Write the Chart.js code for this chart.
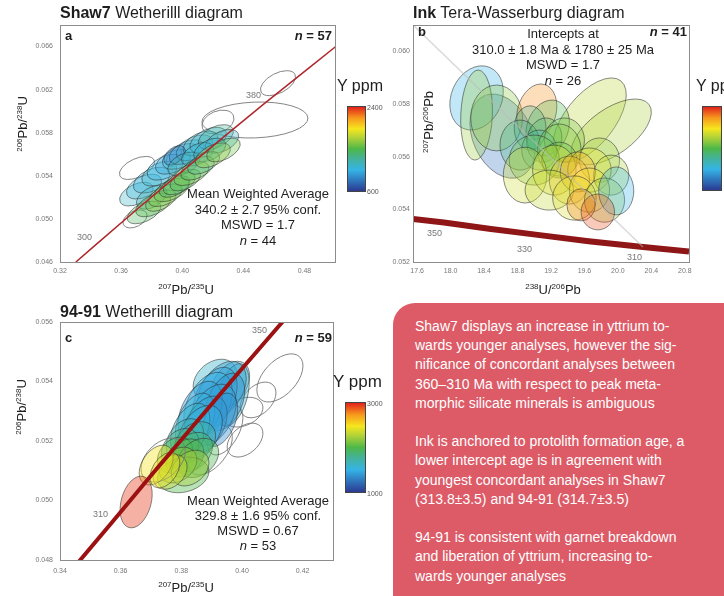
<!DOCTYPE html>
<html>
<head>
<meta charset="utf-8">
<script src="https://cdn.jsdelivr.net/npm/chart.js@4.4.0/dist/chart.umd.min.js"></script>
<style>
  body { margin: 0; width: 724px; height: 596px; background: #fff; position: relative; overflow: hidden;
         font-family: "Liberation Sans", Arial, sans-serif; color: #1e1e1e; }
  canvas { position: absolute; }
  .t { position: absolute; white-space: nowrap; line-height: 1; }
  .c { transform: translateX(-50%); text-align: center; }
  .rot { transform: translate(-50%, -50%) rotate(-90deg); }
  .sup { font-size: 8px; vertical-align: 5px; }
  .titulo { font-size: 16px; }
  .letra { font-size: 13px; font-weight: bold; }
  .stats { font-size: 13px; }
  .edad { font-size: 9px; color: #777; }
  .eje { font-size: 13px; }
  .yppm { font-size: 16px; }
  .barra { position: absolute; border: 1px solid #444; box-sizing: border-box; }
  .mini { font-size: 7px; color: #555; }
  #caja { position: absolute; left: 393px; top: 303px; width: 360px; height: 320px; background: #dc5b67;
          border-radius: 22px; color: #fff; font-size: 14px; line-height: 19.2px; padding: 14px 0 0 22px;
          box-sizing: border-box; white-space: nowrap; }
</style>
</head>
<body>

<canvas id="graficoA" width="340" height="280" style="left:0;top:0"></canvas>
<canvas id="graficoB" width="330" height="280" style="left:370px;top:0"></canvas>
<canvas id="graficoC" width="340" height="280" style="left:0;top:300px"></canvas>

<!-- titulos -->
<div class="t titulo" style="left:60px;top:5px"><b>Shaw7</b> Wetherilll diagram</div>
<div class="t titulo" style="left:413px;top:5px"><b>Ink</b> Tera-Wasserburg diagram</div>
<div class="t titulo" style="left:60px;top:304px"><b>94-91</b> Wetherilll diagram</div>

<!-- panel a -->
<div class="t letra" style="left:65px;top:29px">a</div>
<div class="t letra" style="right:392px;top:29px"><i>n</i> = 57</div>
<div class="t stats c" style="left:258px;top:186px;line-height:15.5px">Mean Weighted Average<br>340.2 ± 2.7 95% conf.<br>MSWD = 1.7<br><i>n</i> = 44</div>
<div class="t edad" style="left:77px;top:233px">300</div>
<div class="t edad" style="left:246px;top:91px">380</div>
<div class="t eje c" style="left:186px;top:283px"><span class="sup">207</span>Pb/<span class="sup">235</span>U</div>
<div class="t eje rot" style="left:22px;top:124px"><span class="sup">206</span>Pb/<span class="sup">238</span>U</div>

<!-- panel b -->
<div class="t letra" style="left:418px;top:25px">b</div>
<div class="t letra" style="right:37px;top:25px"><i>n</i> = 41</div>
<div class="t stats c" style="left:563px;top:26px;line-height:15.7px">Intercepts at<br>310.0 ± 1.8 Ma &amp; 1780 ± 25 Ma<br>MSWD = 1.7<br><i>n</i> = 26</div>
<div class="t edad" style="left:427px;top:229px">350</div>
<div class="t edad" style="left:517px;top:245px">330</div>
<div class="t edad" style="left:627px;top:253px">310</div>
<div class="t eje c" style="left:553px;top:283px"><span class="sup">238</span>U/<span class="sup">206</span>Pb</div>
<div class="t eje rot" style="left:428px;top:122px"><span class="sup">207</span>Pb/<span class="sup">206</span>Pb</div>

<!-- panel c -->
<div class="t letra" style="left:65px;top:331px">c</div>
<div class="t letra" style="right:392px;top:331px"><i>n</i> = 59</div>
<div class="t stats c" style="left:258px;top:493px;line-height:15px">Mean Weighted Average<br>329.8 ± 1.6 95% conf.<br>MSWD = 0.67<br><i>n</i> = 53</div>
<div class="t edad" style="left:252px;top:326px">350</div>
<div class="t edad" style="left:93px;top:510px">310</div>
<div class="t eje c" style="left:186px;top:581px"><span class="sup">207</span>Pb/<span class="sup">235</span>U</div>
<div class="t eje rot" style="left:21px;top:407px"><span class="sup">206</span>Pb/<span class="sup">238</span>U</div>

<!-- barras de color -->
<div class="t yppm" style="left:337px;top:78px">Y ppm</div>
<div class="barra" id="barraA" style="left:347px;top:106px;width:19px;height:86px"></div>
<div class="t mini" style="left:367px;top:104px">2400</div>
<div class="t mini" style="left:367px;top:188px">600</div>

<div class="t yppm" style="left:696px;top:78px">Y ppm</div>
<div class="barra" id="barraB" style="left:702px;top:106px;width:20px;height:85px"></div>

<div class="t yppm" style="left:333px;top:373px;font-size:17px">Y ppm</div>
<div class="barra" id="barraC" style="left:345px;top:402px;width:21px;height:91px"></div>
<div class="t mini" style="left:367px;top:400px">3000</div>
<div class="t mini" style="left:367px;top:490px">1000</div>

<div id="caja">Shaw7 displays an increase in yttrium to-<br>wards younger analyses, however the sig-<br>nificance of concordant analyses between<br>360–310 Ma with respect to peak meta-<br>morphic silicate minerals is ambiguous<br><br>Ink is anchored to protolith formation age, a<br>lower intercept age is in agreement with<br>youngest concordant analyses in Shaw7<br>(313.8±3.5) and 94-91 (314.7±3.5)<br><br>94-91 is consistent with garnet breakdown<br>and liberation of yttrium, increasing to-<br>wards younger analyses</div>

<script>
// ---- Panel a: Shaw7 (Wetherill) ----
const ticksXA = [0.32, 0.36, 0.40, 0.44, 0.48];
const ticksYA = [0.046, 0.050, 0.054, 0.058, 0.062, 0.066];
const concordiaA = [[0.3304, 0.0460], [0.3437, 0.04764], [0.3704, 0.0509], [0.3977, 0.05416],
                    [0.4256, 0.05743], [0.4539, 0.06072], [0.4828, 0.0640], [0.5005, 0.0660]];
// columnas: x, y, semiancho x, semiancho y, correlacion, Y ppm (null = sin color)
const elipsesA = [
  [0.4627, 0.0626, 0.0115, 0.00116, 0.5, null],
  [0.4476, 0.05918, 0.0347, 0.00167, 0.1, null],
  [0.4234, 0.0590, 0.0105, 0.0011, 0.3, null],
  [0.3704, 0.05473, 0.0115, 0.00107, 0.5, null],
  [0.3691, 0.0500, 0.0079, 0.00084, 0.4, null],
  [0.3946, 0.05575, 0.0050, 0.0009, 0.5, null],
  [0.370, 0.0523, 0.0110, 0.00110, 0.45, 1150],
  [0.375, 0.0530, 0.0115, 0.00115, 0.45, 1100],
  [0.380, 0.0536, 0.0120, 0.00120, 0.45, 1080],
  [0.385, 0.0542, 0.0115, 0.00115, 0.45, 1150],
  [0.389, 0.0548, 0.0120, 0.00120, 0.45, 1050],
  [0.394, 0.0553, 0.0115, 0.00115, 0.45, 980],
  [0.399, 0.0558, 0.0120, 0.00120, 0.45, 1100],
  [0.403, 0.0562, 0.0115, 0.00115, 0.45, 950],
  [0.408, 0.0566, 0.0120, 0.00120, 0.45, 1080],
  [0.412, 0.0570, 0.0115, 0.00115, 0.45, 1200],
  [0.417, 0.0573, 0.0120, 0.00120, 0.45, 1120],
  [0.422, 0.0576, 0.0115, 0.00115, 0.45, 1300],
  [0.426, 0.0572, 0.0110, 0.00110, 0.45, 1150],
  [0.395, 0.0559, 0.0070, 0.00090, 0.45, 850],
  [0.401, 0.0551, 0.0105, 0.00110, 0.45, 1250],
  [0.410, 0.0560, 0.0105, 0.00110, 0.45, 1120],
  [0.418, 0.0564, 0.0105, 0.00110, 0.45, 1080],
  [0.380, 0.0520, 0.0100, 0.00110, 0.45, 1200],
  [0.375, 0.0506, 0.0110, 0.00105, 0.5, 1450],
  [0.381, 0.0513, 0.0115, 0.00110, 0.5, 1500],
  [0.386, 0.0517, 0.0100, 0.00100, 0.5, 1650],
  [0.389, 0.0522, 0.0110, 0.00105, 0.5, 1600],
  [0.393, 0.0527, 0.0115, 0.00110, 0.5, 1550],
  [0.395, 0.0530, 0.0100, 0.00100, 0.5, 1400],
  [0.398, 0.0533, 0.0105, 0.00105, 0.5, 1450],
  [0.402, 0.0536, 0.0100, 0.00100, 0.5, 1500],
  [0.406, 0.0542, 0.0115, 0.00110, 0.5, 1600],
  [0.410, 0.0547, 0.0110, 0.00110, 0.5, 1450],
  [0.414, 0.0552, 0.0105, 0.00105, 0.5, 1350],
  [0.420, 0.0559, 0.0115, 0.00115, 0.5, 1700],
  [0.427, 0.0564, 0.0110, 0.00110, 0.5, 1550]
];

// ---- Panel b: Ink (Tera-Wasserburg) ----
const ticksXB = [17.6, 18.0, 18.4, 18.8, 19.2, 19.6, 20.0, 20.4, 20.8];
const ticksYB = [0.052, 0.054, 0.056, 0.058, 0.060];
const concordiaB = [[17.55, 0.05363], [17.92, 0.05350], [18.46, 0.05326], [19.04, 0.05303],
                    [19.65, 0.05279], [20.30, 0.05257], [20.85, 0.05240]];
const edadesB = [[17.92, 0.05350], [18.46, 0.05326], [19.04, 0.05303], [19.65, 0.05279], [20.30, 0.05257]];
const discordiaB = [[17.55, 0.0610], [20.30, 0.05257]];
const elipsesB = [
  [19.66, 0.05739, 0.44, 0.0016, 0.6, 1770],
  [19.92, 0.05694, 0.48, 0.00125, 0.6, 1720],
  [18.62, 0.05678, 0.39, 0.0016, -0.3, 820],
  [18.31, 0.05823, 0.32, 0.00122, 0.2, 1050],
  [18.31, 0.05758, 0.19, 0.00171, 0.1, 1680],
  [18.55, 0.05747, 0.31, 0.00125, 0.0, 1640],
  [19.03, 0.0577, 0.24, 0.00106, 0.2, 2180],
  [19.16, 0.05709, 0.26, 0.00106, 0.2, 1500],
  [18.95, 0.05709, 0.19, 0.00084, 0.0, 1320],
  [18.83, 0.05644, 0.24, 0.00095, 0.0, 1360],
  [19.12, 0.05663, 0.21, 0.00084, 0.1, 1410],
  [19.36, 0.05663, 0.24, 0.00084, 0.0, 1590],
  [19.06, 0.05625, 0.21, 0.00076, 0.0, 1230],
  [19.30, 0.05625, 0.26, 0.00099, 0.0, 1640],
  [19.00, 0.05587, 0.30, 0.00095, 0.0, 1590],
  [19.30, 0.05587, 0.21, 0.00068, 0.0, 1540],
  [19.78, 0.05587, 0.24, 0.00084, 0.0, 1680],
  [18.89, 0.0553, 0.26, 0.00106, 0.0, 1820],
  [19.24, 0.05549, 0.26, 0.00095, 0.0, 1860],
  [19.66, 0.05549, 0.26, 0.00084, 0.0, 1900],
  [19.92, 0.0553, 0.21, 0.00076, 0.0, 1720],
  [19.42, 0.05511, 0.24, 0.00091, 0.0, 2040],
  [19.52, 0.05542, 0.21, 0.00076, 0.0, 2130],
  [19.18, 0.05473, 0.29, 0.00076, 0.0, 1790],
  [19.66, 0.05473, 0.24, 0.00084, 0.0, 1950],
  [19.48, 0.05443, 0.26, 0.00084, 0.0, 1860],
  [19.84, 0.05435, 0.24, 0.00084, 0.0, 1680],
  [19.98, 0.0547, 0.21, 0.00091, 0.0, 1050],
  [19.56, 0.05417, 0.17, 0.00061, 0.0, 2220],
  [19.76, 0.0539, 0.20, 0.00068, 0.0, 2310]
];

// ---- Panel c: 94-91 (Wetherill) ----
const ticksXC = [0.34, 0.36, 0.38, 0.40, 0.42];
const ticksYC = [0.048, 0.050, 0.052, 0.054, 0.056];
const concordiaC = [[0.3437, 0.04764], [0.3571, 0.04926], [0.3705, 0.0509], [0.3840, 0.05252],
                    [0.3977, 0.05416], [0.4116, 0.05580], [0.4256, 0.05743]];
const edadesC = [[0.3571, 0.04926], [0.4116, 0.05580]];
const elipsesC = [
  [0.4125, 0.05412, 0.0076, 0.00081, 0.5, null],
  [0.4053, 0.05338, 0.0059, 0.0006, 0.4, null],
  [0.4010, 0.05203, 0.0059, 0.00057, 0.4, null],
  [0.4003, 0.05297, 0.0066, 0.0005, 0.3, null],
  [0.3895, 0.0517, 0.0073, 0.00084, 0.5, null],
  [0.3944, 0.05237, 0.0059, 0.00084, 0.5, null],
  [0.3911, 0.05405, 0.0072, 0.0007, 0.3, 1600],
  [0.3960, 0.05388, 0.0065, 0.0008, 0.4, 1560],
  [0.3970, 0.05355, 0.0054, 0.00105, 0.4, 1600],
  [0.3934, 0.05371, 0.0080, 0.00097, 0.4, 1400],
  [0.3911, 0.05344, 0.0073, 0.00104, 0.4, 1440],
  [0.3888, 0.05321, 0.0080, 0.0011, 0.4, 1500],
  [0.3944, 0.05331, 0.0065, 0.00097, 0.4, 1360],
  [0.3862, 0.05297, 0.0073, 0.00104, 0.4, 1400],
  [0.3901, 0.05287, 0.0080, 0.00104, 0.4, 1460],
  [0.3845, 0.05264, 0.0065, 0.00097, 0.4, 1540],
  [0.3878, 0.05254, 0.0073, 0.00097, 0.4, 1400],
  [0.3928, 0.05271, 0.0058, 0.0009, 0.4, 1340],
  [0.3829, 0.05237, 0.0065, 0.0009, 0.4, 1600],
  [0.3862, 0.0523, 0.0073, 0.0009, 0.4, 1500],
  [0.3812, 0.05203, 0.0062, 0.00072, 0.3, 1700],
  [0.3845, 0.05197, 0.0068, 0.00068, 0.3, 1760],
  [0.3796, 0.05176, 0.0062, 0.00066, 0.3, 1840],
  [0.3835, 0.05163, 0.0068, 0.00066, 0.3, 1900],
  [0.3779, 0.05153, 0.0058, 0.0006, 0.3, 2000],
  [0.3812, 0.05143, 0.0062, 0.00064, 0.3, 2040],
  [0.3855, 0.05143, 0.0068, 0.00066, 0.3, 1960],
  [0.3806, 0.05086, 0.0085, 0.0006, 0.2, 2000],
  [0.3789, 0.05119, 0.0062, 0.0006, 0.3, 2200],
  [0.3829, 0.05109, 0.0062, 0.0006, 0.3, 2240],
  [0.3763, 0.05096, 0.0056, 0.00058, 0.3, 2360],
  [0.3740, 0.05136, 0.0073, 0.00074, 0.4, null],
  [0.3717, 0.05119, 0.0056, 0.00067, 0.4, 2500],
  [0.3746, 0.05102, 0.0049, 0.0006, 0.4, 2440],
  [0.3651, 0.04995, 0.0053, 0.00087, 0.3, 2940]
];

// colores de la escala (tipo jet)
const paradasJet = [[0, "#2b3a93"], [0.12, "#2f74bb"], [0.25, "#35b4e6"], [0.38, "#43b29c"], [0.5, "#4db848"],
                    [0.62, "#a8cf3a"], [0.74, "#f6e61e"], [0.87, "#f7981d"], [1, "#e2231a"]];

function hexARgb(h) {
  return [parseInt(h.substr(1, 2), 16), parseInt(h.substr(3, 2), 16), parseInt(h.substr(5, 2), 16)];
}

function colorJet(t, alfa) {
  t = Math.max(0, Math.min(1, t));
  for (let i = 1; i < paradasJet.length; i++) {
    if (t <= paradasJet[i][0]) {
      const a = paradasJet[i - 1], b = paradasJet[i];
      const f = (t - a[0]) / (b[0] - a[0]);
      const ca = hexARgb(a[1]), cb = hexARgb(b[1]);
      const c = ca.map((v, k) => Math.round(v + (cb[k] - v) * f));
      return `rgba(${c[0]},${c[1]},${c[2]},${alfa})`;
    }
  }
  return paradasJet[paradasJet.length - 1][1];
}

const gradiente = "linear-gradient(to top," + paradasJet.map(p => `${p[1]} ${p[0] * 100}%`).join(",") + ")";
document.getElementById("barraA").style.background = gradiente;
document.getElementById("barraB").style.background = gradiente;
document.getElementById("barraC").style.background = gradiente;

// dibuja las elipses de error con las escalas del grafico
const pluginElipses = {
  id: "elipses",
  beforeDatasetsDraw(chart) {
    const ctx = chart.ctx, xs = chart.scales.x, ys = chart.scales.y, area = chart.chartArea;
    ctx.save();
    ctx.beginPath();
    ctx.rect(area.left, area.top, area.right - area.left, area.bottom - area.top);
    ctx.clip();
    chart.data.datasets.forEach(ds => {
      if (!ds.elipses) return;
      ds.data.forEach(p => {
        const cx = xs.getPixelForValue(p.x), cy = ys.getPixelForValue(p.y);
        const ax = Math.abs(xs.getPixelForValue(p.x + p.sx) - cx);
        const ay = Math.abs(ys.getPixelForValue(p.y + p.sy) - cy);
        const cxx = ax * ax, cyy = ay * ay, cxy = -p.rho * ax * ay;
        const m = (cxx + cyy) / 2, d = Math.sqrt(((cxx - cyy) / 2) ** 2 + cxy * cxy);
        const r1 = Math.sqrt(m + d), r2 = Math.sqrt(Math.max(m - d, 0.5));
        const ang = 0.5 * Math.atan2(2 * cxy, cxx - cyy);
        ctx.beginPath();
        ctx.ellipse(cx, cy, r1, r2, ang, 0, Math.PI * 2);
        if (p.ppm != null) {
          ctx.fillStyle = colorJet((p.ppm - ds.ppmMin) / (ds.ppmMax - ds.ppmMin), ds.alfa);
          ctx.fill();
          ctx.strokeStyle = "rgba(45,45,45,0.55)";
        } else {
          ctx.strokeStyle = "rgba(120,120,120,0.9)";
        }
        ctx.lineWidth = 1;
        ctx.stroke();
      });
    });
    ctx.restore();
  }
};

// marco gris del area
const pluginMarco = {
  id: "marco",
  afterDraw(chart) {
    const a = chart.chartArea, ctx = chart.ctx;
    ctx.save();
    ctx.strokeStyle = "#8c8c8c";
    ctx.lineWidth = 1;
    ctx.strokeRect(Math.round(a.left) + 0.5, Math.round(a.top) + 0.5, Math.round(a.right - a.left), Math.round(a.bottom - a.top));
    ctx.restore();
  }
};

function aPuntos(lista) {
  return lista.map(p => ({ x: p[0], y: p[1] }));
}

function aElipses(lista) {
  return lista.map(e => ({ x: e[0], y: e[1], sx: e[2], sy: e[3], rho: e[4], ppm: e[5] }));
}

function ejeLineal(min, max, ticks, dec, pad, ajuste) {
  return {
    type: "linear", min: min, max: max,
    grid: { display: false, drawTicks: false },
    border: { display: false },
    ticks: { autoSkip: false, maxRotation: 0, padding: pad, color: "#777",
             font: { size: 7, family: "Liberation Sans" }, callback: v => v.toFixed(dec) },
    afterBuildTicks: s => { s.ticks = ticks.map(v => ({ value: v })); },
    afterFit: ajuste
  };
}

function dibujarPanel(id, cfg) {
  const datasets = [
    { data: aElipses(cfg.elipses), elipses: true, ppmMin: cfg.ppmMin, ppmMax: cfg.ppmMax, alfa: cfg.alfa,
      pointRadius: 0, showLine: false }
  ];
  if (cfg.discordia) {
    datasets.push({ data: aPuntos(cfg.discordia), showLine: true, pointRadius: 0,
                    borderColor: "rgba(185,185,185,0.55)", borderWidth: 1.5 });
  }
  datasets.push({ data: aPuntos(cfg.concordia), showLine: true, pointRadius: 0,
                  borderColor: cfg.colorLinea, borderWidth: cfg.anchoLinea });
  if (cfg.edades) {
    datasets.push({ data: aPuntos(cfg.edades), showLine: false, pointStyle: "line", pointRadius: cfg.radioMarca,
                    pointRotation: cfg.giroMarca, pointBorderColor: "#fff", pointBorderWidth: 2 });
  }
  const ctx = document.getElementById(id).getContext("2d");
  new Chart(ctx, {
    type: "scatter",
    data: { datasets: datasets },
    options: {
      responsive: false,
      animation: false,
      layout: { padding: { top: cfg.padTop, right: cfg.padRight, left: 0, bottom: 0 } },
      plugins: { legend: { display: false }, tooltip: { enabled: false } },
      scales: {
        x: ejeLineal(cfg.xMin, cfg.xMax, cfg.ticksX, cfg.decX, cfg.padX, s => { s.height = cfg.altoX; }),
        y: ejeLineal(cfg.yMin, cfg.yMax, cfg.ticksY, 3, cfg.padY, s => { s.width = cfg.anchoY; })
      }
    },
    plugins: [pluginElipses, pluginMarco]
  });
}

dibujarPanel("graficoA", {
  elipses: elipsesA, ppmMin: 600, ppmMax: 2400, alfa: 0.32,
  concordia: concordiaA, colorLinea: "#b0262b", anchoLinea: 1.5,
  xMin: 0.32, xMax: 0.50, yMin: 0.046, yMax: 0.068, ticksX: ticksXA, ticksY: ticksYA, decX: 2,
  padTop: 25, padRight: 5, anchoY: 60, altoX: 18, padX: 5, padY: 7
});

dibujarPanel("graficoB", {
  elipses: elipsesB, ppmMin: 600, ppmMax: 2400, alfa: 0.3,
  concordia: concordiaB, colorLinea: "#8e1616", anchoLinea: 6,
  edades: edadesB, radioMarca: 5, giroMarca: -62, discordia: discordiaB,
  xMin: 17.55, xMax: 20.85, yMin: 0.052, yMax: 0.061, ticksX: ticksXB, ticksY: ticksYB, decX: 1,
  padTop: 25, padRight: 11, anchoY: 43, altoX: 18, padX: 5, padY: 3
});

dibujarPanel("graficoC", {
  elipses: elipsesC, ppmMin: 1000, ppmMax: 3000, alfa: 0.4,
  concordia: concordiaC, colorLinea: "#9c1212", anchoLinea: 4,
  edades: edadesC, radioMarca: 4, giroMarca: 40,
  xMin: 0.34, xMax: 0.43, yMin: 0.048, yMax: 0.056, ticksX: ticksXC, ticksY: ticksYC, decX: 2,
  padTop: 22, padRight: 7, anchoY: 60, altoX: 20, padX: 7, padY: 7
});
</script>
</body>
</html>
